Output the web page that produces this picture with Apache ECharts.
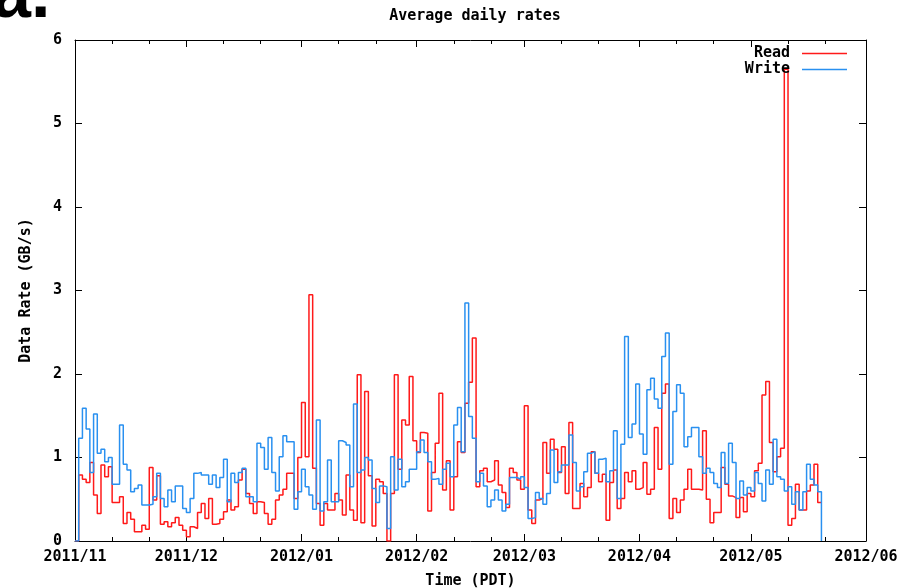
<!DOCTYPE html>
<html>
<head>
<meta charset="utf-8">
<script src="https://cdn.jsdelivr.net/npm/echarts@6/dist/echarts.min.js"></script>
<style>
  html, body { margin: 0; padding: 0; background: #ffffff; }
  #chart { width: 906px; height: 588px; }
</style>
</head>
<body>
<div id="chart"></div>
<script>
// First daily sample: 2011-11-01 (month is 0-based); x is measured in days from it
const firstDay = [2011, 10, 1];

// Month boundaries used for the major ticks and their labels
const monthStarts = [[2011, 10], [2011, 11], [2012, 0], [2012, 1], [2012, 2], [2012, 3], [2012, 4], [2012, 5]];
const monthLabels = ['2011/11', '2011/12', '2012/01', '2012/02', '2012/03', '2012/04', '2012/05', '2012/06'];
// Minor ticks fall on these days of each month
const minorTickDays = [11, 21];

const yTicks = [0, 1, 2, 3, 4, 5, 6];

// Average daily read rate, GB/s (one value per day)
const readRates = [
  0,
  0.79, 0.74, 0.70, 0.94, 0.55, 0.33, 0.91, 0.77, 0.89, 0.46, 0.46, 0.53, 0.21, 0.34, 0.26, 0.11, 0.11, 0.19, 0.14, 0.88, 0.49, 0.78, 0.20,
  0.23, 0.17, 0.22, 0.28, 0.19, 0.13, 0.05, 0.17, 0.15, 0.34, 0.45, 0.27, 0.51, 0.20, 0.21, 0.26, 0.35, 0.49, 0.37, 0.41, 0.73, 0.86, 0.57,
  0.45, 0.33, 0.47, 0.46, 0.33, 0.20, 0.26, 0.49, 0.55, 0.62, 0.81, 0.81, 0.51, 1.00, 1.66, 1.01, 2.95, 0.87, 0.45, 0.19, 0.45, 0.37, 0.37, 0.57, 0.49,
  0.31, 0.79, 0.37, 0.25, 1.99, 0.22, 1.79, 0.78, 0.18, 0.74, 0.71, 0.57, 0.00, 0.57, 1.99, 0.86, 1.45, 1.39, 1.97, 1.20, 1.06, 1.30, 1.29, 0.36,
  0.82, 1.17, 1.77, 0.61, 0.96, 0.37, 0.77, 1.19, 1.06, 1.65, 1.90, 2.43, 0.65, 0.84, 0.87, 0.71, 0.73, 0.96, 0.67, 0.58, 0.40, 0.87, 0.82, 0.73,
  0.62, 1.62, 0.37, 0.21, 0.49, 0.51, 1.18, 0.81, 1.22, 1.10, 0.82, 1.13, 0.57, 1.42, 0.39, 0.39, 0.69, 0.53, 0.64, 1.07, 0.81, 0.71, 0.80, 0.25,
  0.70, 0.85, 0.39, 0.51, 0.82, 0.71, 0.84, 0.62, 0.64, 0.94, 0.56, 0.62, 1.36, 0.86, 1.77, 1.88, 0.27, 0.51, 0.34, 0.49, 0.62, 0.86, 0.62, 0.62,
  0.61, 1.32, 0.50, 0.22, 0.34, 0.34, 0.88, 0.68, 0.54, 0.52, 0.28, 0.52, 0.35, 0.57, 0.53, 0.84, 0.93, 1.75, 1.91, 1.18, 0.83, 1.01, 1.11, 5.65,
  0.19, 0.27, 0.68, 0.37, 0.37, 0.60, 0.67, 0.92, 0.46, 0.46
];

// Average daily write rate, GB/s (one value per day)
const writeRates = [
  0,
  1.23, 1.59, 1.34, 0.82, 1.52, 1.05, 1.10, 0.95, 1.00, 0.68, 0.68, 1.39, 0.92, 0.85, 0.59, 0.63, 0.67, 0.43, 0.43, 0.44, 0.53, 0.81, 0.51,
  0.41, 0.61, 0.47, 0.66, 0.66, 0.39, 0.34, 0.51, 0.81, 0.82, 0.79, 0.79, 0.68, 0.79, 0.64, 0.76, 0.98, 0.47, 0.81, 0.70, 0.82, 0.87, 0.53,
  0.53, 0.47, 1.17, 1.12, 0.86, 1.24, 0.82, 0.60, 1.01, 1.26, 1.19, 1.19, 0.38, 0.59, 0.86, 0.65, 0.55, 0.38, 1.45, 0.36, 0.47, 0.97, 0.47, 0.47, 1.20,
  1.18, 1.15, 0.65, 1.64, 0.82, 0.85, 1.00, 0.97, 0.63, 0.46, 0.66, 0.65, 0.15, 1.01, 0.61, 0.98, 0.65, 0.71, 0.86, 0.86, 1.07, 1.21, 1.06, 0.95,
  0.74, 0.75, 0.68, 0.86, 0.93, 0.77, 1.39, 1.60, 1.07, 2.85, 1.49, 1.23, 0.71, 0.81, 0.66, 0.41, 0.49, 0.61, 0.49, 0.36, 0.44, 0.76, 0.76, 0.74,
  0.77, 0.64, 0.27, 0.28, 0.58, 0.51, 0.44, 0.57, 1.09, 0.70, 0.83, 0.91, 0.91, 1.27, 0.94, 0.60, 0.65, 0.83, 1.05, 1.07, 0.81, 0.98, 0.99, 0.71,
  0.84, 1.32, 0.51, 1.16, 2.45, 1.24, 1.40, 1.88, 1.28, 1.04, 1.81, 1.95, 1.70, 1.59, 2.21, 2.49, 0.92, 1.55, 1.87, 1.77, 1.13, 1.25, 1.36, 1.36,
  1.01, 0.81, 0.87, 0.82, 0.69, 0.64, 1.06, 0.69, 1.17, 0.94, 0.51, 0.72, 0.55, 0.64, 0.60, 0.82, 0.69, 0.48, 0.85, 0.68, 1.22, 0.77, 0.74, 0.60,
  0.65, 0.44, 0.59, 0.37, 0.59, 0.92, 0.74, 0.67, 0.59, 0
];

const DAY_MS = 86400000;
const origin = Date.UTC(firstDay[0], firstDay[1], firstDay[2]);
const dayOffset = (y, m, d) => Math.round((Date.UTC(y, m, d) - origin) / DAY_MS);

const majorTicks = monthStarts.map(m => dayOffset(m[0], m[1], 1));
const minorTicks = [];
monthStarts.slice(0, -1).forEach(m => minorTickDays.forEach(d => minorTicks.push(dayOffset(m[0], m[1], d))));

const xMin = majorTicks[0];
const xMax = majorTicks[majorTicks.length - 1];

const FONT = 'DejaVu Sans Mono';
const FONT_SIZE = 15;
const INK = '#000000';
const READ_COLOR = '#ff1a1a';
const WRITE_COLOR = '#2990f0';

function dayAxis(position, ticks, tickLen, showLine, showLabels) {
  return {
    type: 'value',
    position: position,
    min: xMin,
    max: xMax,
    splitLine: { show: false },
    axisLine: { show: showLine, onZero: false, lineStyle: { color: INK, width: 1 } },
    axisTick: { show: true, inside: true, length: tickLen, customValues: ticks, lineStyle: { color: INK, width: 1 } },
    axisLabel: showLabels ? {
      show: true,
      customValues: majorTicks,
      margin: 9,
      color: INK,
      fontFamily: FONT,
      fontWeight: 'bold',
      fontSize: FONT_SIZE,
      hideOverlap: false,
      formatter: v => monthLabels[majorTicks.indexOf(v)] || ''
    } : { show: false },
    name: showLabels ? 'Time (PDT)' : '',
    nameLocation: 'middle',
    nameGap: 33,
    nameTextStyle: { color: INK, fontFamily: FONT, fontWeight: 'bold', fontSize: FONT_SIZE }
  };
}

function rateAxis(position, showLabels) {
  return {
    type: 'value',
    position: position,
    min: yTicks[0],
    max: yTicks[yTicks.length - 1],
    interval: 1,
    splitLine: { show: false },
    axisLine: { show: true, onZero: false, lineStyle: { color: INK, width: 1 } },
    axisTick: { show: true, inside: true, length: 7, lineStyle: { color: INK, width: 1 } },
    axisLabel: showLabels ? {
      show: true, margin: 13, color: INK, fontFamily: FONT, fontWeight: 'bold', fontSize: FONT_SIZE
    } : { show: false },
    name: showLabels ? 'Data Rate (GB/s)' : '',
    nameLocation: 'middle',
    nameGap: 41,
    nameTextStyle: { color: INK, fontFamily: FONT, fontWeight: 'bold', fontSize: FONT_SIZE }
  };
}

const chart = echarts.init(document.getElementById('chart'), null, { renderer: 'canvas' });

chart.setOption({
  animation: false,
  backgroundColor: '#ffffff',
  title: {
    text: 'Average daily rates',
    left: 470,
    textAlign: 'center',
    top: 4,
    textStyle: { color: INK, fontFamily: FONT, fontWeight: 'bold', fontSize: FONT_SIZE }
  },
  graphic: [{
    type: 'text',
    left: -8,
    top: -37,
    style: { text: 'a.', font: 'bold 70px "Liberation Sans"', fill: INK }
  }],
  legend: {
    orient: 'vertical',
    right: 59,
    top: 46,
    padding: 0,
    align: 'right',
    itemWidth: 45,
    itemHeight: 1.5,
    itemGap: 1,
    selectedMode: false,
    textStyle: { color: INK, fontFamily: FONT, fontWeight: 'bold', fontSize: FONT_SIZE, padding: [0, 7, 0, 0] },
    data: [
      { name: 'Read', icon: 'rect' },
      { name: 'Write', icon: 'rect' }
    ]
  },
  grid: { left: 75, right: 40, top: 40, bottom: 47, containLabel: false, outerBoundsMode: 'none' },
  xAxis: [
    dayAxis('bottom', majorTicks, 7, true, true),
    dayAxis('bottom', minorTicks, 4, false, false),
    dayAxis('top', majorTicks, 7, true, false),
    dayAxis('top', minorTicks, 4, false, false)
  ],
  yAxis: [
    rateAxis('left', true),
    rateAxis('right', false)
  ],
  series: [
    {
      name: 'Read',
      type: 'line',
      step: 'end',
      symbol: 'none',
      xAxisIndex: 0,
      yAxisIndex: 0,
      color: READ_COLOR,
      lineStyle: { width: 1.5, color: READ_COLOR },
      data: readRates.map((v, i) => [i, v])
    },
    {
      name: 'Write',
      type: 'line',
      step: 'end',
      symbol: 'none',
      xAxisIndex: 0,
      yAxisIndex: 0,
      color: WRITE_COLOR,
      lineStyle: { width: 1.5, color: WRITE_COLOR },
      data: writeRates.map((v, i) => [i, v])
    }
  ]
});
</script>
</body>
</html>
